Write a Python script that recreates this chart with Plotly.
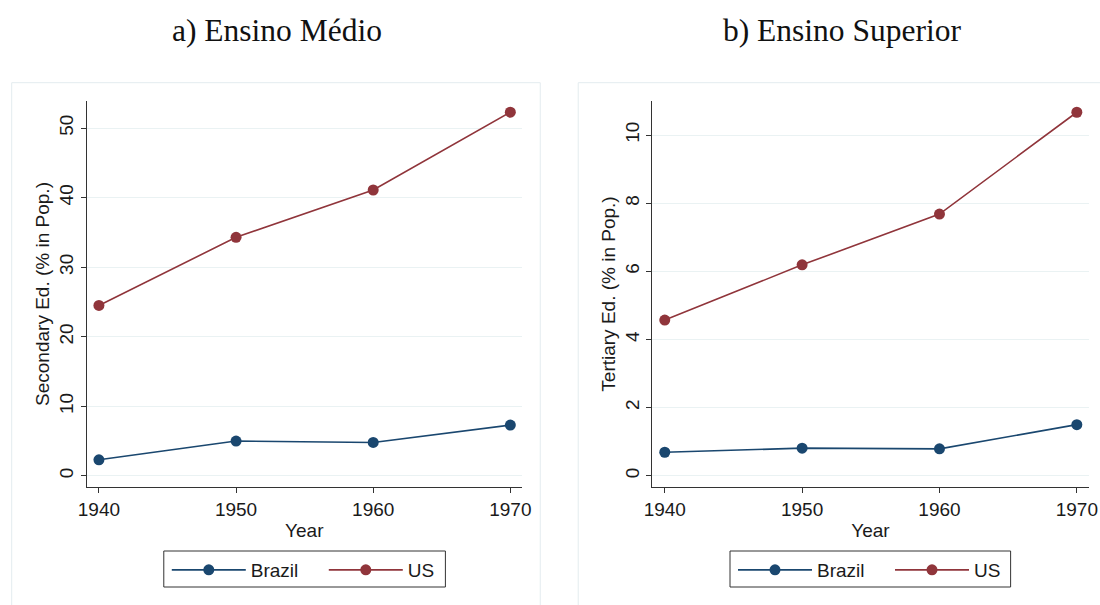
import plotly.graph_objects as go

years = [1940, 1950, 1960, 1970]
brazil_secondary = [2.3, 5.0, 4.8, 7.3]
us_secondary = [24.5, 34.3, 41.1, 52.3]
brazil_tertiary = [0.69, 0.81, 0.79, 1.50]
us_tertiary = [4.57, 6.19, 7.68, 10.67]
panel_titles = ["a) Ensino Médio", "b) Ensino Superior"]
y_titles = ["Secondary Ed. (% in Pop.)", "Tertiary Ed. (% in Pop.)"]
series_names = ["Brazil", "US"]
colors = ["#1a476f", "#90353b"]

W, H = 1100, 605
fig = go.Figure()

# horizontal placement helper (screen px -> paper fraction)
def px_x(v):
    return ((v - 9) / 0.985) / W

def px_y(v):
    return 1 - v / H

panels = [
    dict(xa="x", ya="y", leg="legend", data=[brazil_secondary, us_secondary],
         dom=[px_x(86.7), px_x(522.7)], yr=[-1.61, 53.9], dt=10,
         legbox=(164, 446)),
    dict(xa="x2", ya="y2", leg="legend2", data=[brazil_tertiary, us_tertiary],
         dom=[px_x(653.3), px_x(1090)], yr=[-0.33, 11.0], dt=2,
         legbox=(731, 1012)),
]

font_sans = "Liberation Sans, Arial, sans-serif"
FS = 19

for i, p in enumerate(panels):
    for name, vals, c in zip(series_names, p["data"], colors):
        fig.add_trace(go.Scatter(
            x=years, y=vals, name=name, mode="lines+markers",
            line=dict(color=c, width=1.6), marker=dict(color=c, size=11),
            xaxis=p["xa"], yaxis=p["ya"], legend=p["leg"],
        ))

ydom = [px_y(487), px_y(101)]
axis_common = dict(showline=True, linecolor="#333333", linewidth=1,
                   ticks="outside", ticklen=5, tickcolor="#333333",
                   tickfont=dict(family=font_sans, size=FS, color="#1a1a1a"),
                   zeroline=False)

layout = dict(
    width=W, height=H, autosize=False,
    margin=dict(l=0, r=0, t=0, b=0),
    paper_bgcolor="white", plot_bgcolor="white",
    showlegend=True,
    font=dict(family=font_sans, size=FS, color="#1a1a1a"),
)

for i, p in enumerate(panels):
    sfx = "" if i == 0 else "2"
    layout["xaxis" + sfx] = dict(
        domain=p["dom"], range=[1939.10, 1970.85], anchor="y" + sfx,
        tickvals=years, showgrid=False,
        title=dict(text="Year", standoff=4, font=dict(family=font_sans, size=FS)),
        **axis_common)
    layout["yaxis" + sfx] = dict(
        domain=ydom, range=p["yr"], anchor="x" + sfx, dtick=p["dt"], tick0=0,
        showgrid=True, gridcolor="#eaf2f3", gridwidth=1, tickangle=-90,
        title=dict(text=y_titles[i], standoff=1, font=dict(family=font_sans, size=FS)),
        **axis_common)
    layout["legend" + ("" if i == 0 else "2")] = dict(
        orientation="h", x=px_x(p["legbox"][0] - 1), xanchor="left",
        y=px_y(551), yanchor="top",
        borderwidth=0, bgcolor="rgba(0,0,0,0)",
        font=dict(family=font_sans, size=FS, color="#1a1a1a"),
        itemwidth=74, indentation=4, tracegroupgap=0,
        entrywidth=64, entrywidthmode="pixels",
    )

fig.update_layout(**layout)

# outer panel frames
fig.add_shape(type="rect", xref="paper", yref="paper",
              x0=px_x(11.7), x1=px_x(541), y0=-0.05, y1=px_y(82.7),
              line=dict(color="#e3ecef", width=1), layer="below")
fig.add_shape(type="rect", xref="paper", yref="paper",
              x0=px_x(579), x1=1.05, y0=-0.05, y1=px_y(82.7),
              line=dict(color="#e3ecef", width=1), layer="below")

# legend frames
for p in panels:
    fig.add_shape(type="rect", xref="paper", yref="paper",
                  x0=px_x(p["legbox"][0]), x1=px_x(p["legbox"][1]),
                  y0=px_y(587), y1=px_y(551),
                  line=dict(color="#333333", width=1), fillcolor="white",
                  layer="below")

for t, cx in zip(panel_titles, [277, 843]):
    fig.add_annotation(text=t, x=px_x(cx), y=px_y(30), xref="paper", yref="paper",
                       xanchor="center", yanchor="middle", showarrow=False,
                       font=dict(family="Liberation Serif, Times New Roman, serif",
                                 size=31.5, color="#111111"))

fig.write_html(
    "out.html",
    config={"displayModeBar": False},
    post_script="document.body.style.margin='0';document.body.style.overflow='hidden';",
)
